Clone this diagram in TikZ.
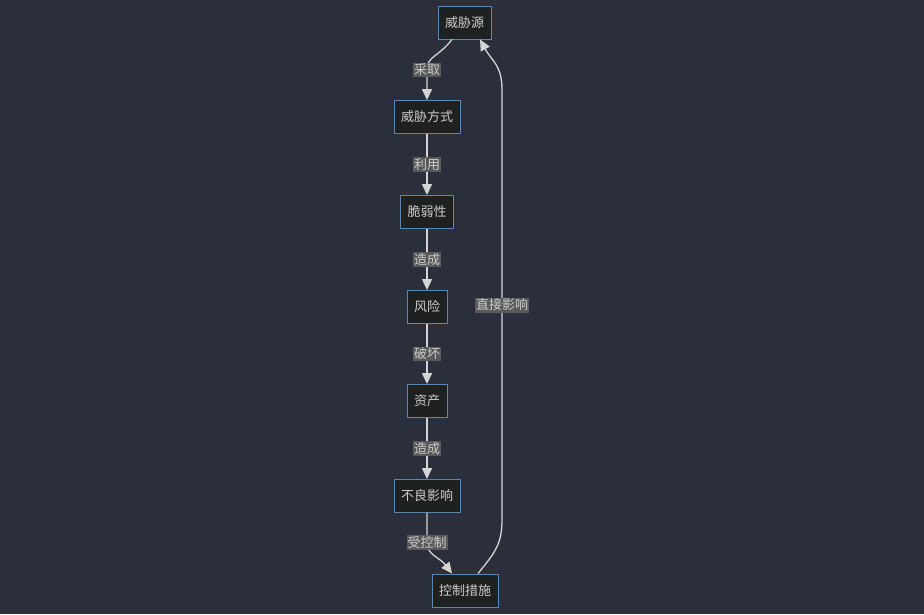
\documentclass[tikz,border=0pt]{standalone}
\usepackage{fontspec}
\setmainfont{Noto Sans CJK SC}
\usetikzlibrary{arrows.meta}
\definecolor{bgcol}{HTML}{2A2F3B}
\definecolor{boxfill}{HTML}{1F2020}
\definecolor{boxline}{HTML}{5A86B0}
\definecolor{txtcol}{HTML}{CCCCCC}
\definecolor{lblfill}{HTML}{5A5A5A}
\definecolor{edgecol}{HTML}{D4D4D4}
\tikzset{
  box/.style={draw=boxline,fill=boxfill,text=txtcol,line width=0.9pt,
    minimum height=33pt,inner xsep=7pt,font=\fontsize{13}{15}\selectfont},
  lbl/.style={fill=lblfill,text=txtcol,inner xsep=1pt,inner ysep=1.5pt,font=\fontsize{13}{15}\selectfont},
  edge/.style={draw=edgecol,line width=1.3pt,-{Triangle[length=11pt,width=10pt]}}
}

\begin{document}
\begin{tikzpicture}[x=1pt,y=-1pt]
\fill[bgcol] (0,0) rectangle (924,614);
\useasboundingbox (0,0) rectangle (924,614);

\node (tsrc) [box] at (464.5,22.5) {威胁源};
\node (tway) [box] at (427,117) {威胁方式};
\node (vuln) [box] at (427,212) {脆弱性};
\node (risk) [box] at (427,307) {风险};
\node (asset) [box] at (427,401) {资产};
\node (bad) [box] at (427,496) {不良影响};
\node (ctrl) [box] at (465,590.5) {控制措施};

\draw[edge] ([xshift=-12.5pt]tsrc.south) .. controls +(-14,18) and +(0,-14) .. ([yshift=30pt]tway.north)
    node[lbl]{采取} -- (tway.north);
\foreach \a/\b/\t in {tway/vuln/利用,vuln/risk/造成,risk/asset/破坏,asset/bad/造成}
    \draw[edge] (\a.south) -- node[lbl]{\t} (\b.north);
\draw[edge] (bad.south) -- ([yshift=-30pt]bad.south) node[lbl]{受控制}
    .. controls +(0,12) and +(-12,-16) .. ([xshift=-13pt]ctrl.north);
\draw[edge] ([xshift=13pt]ctrl.north) .. controls +(16,-20) and +(0,25) .. (502,520)
    -- node[lbl]{直接影响} (502,90) .. controls +(0,-25) and +(12,22) .. ([xshift=15.5pt]tsrc.south);
\end{tikzpicture}
\end{document}
